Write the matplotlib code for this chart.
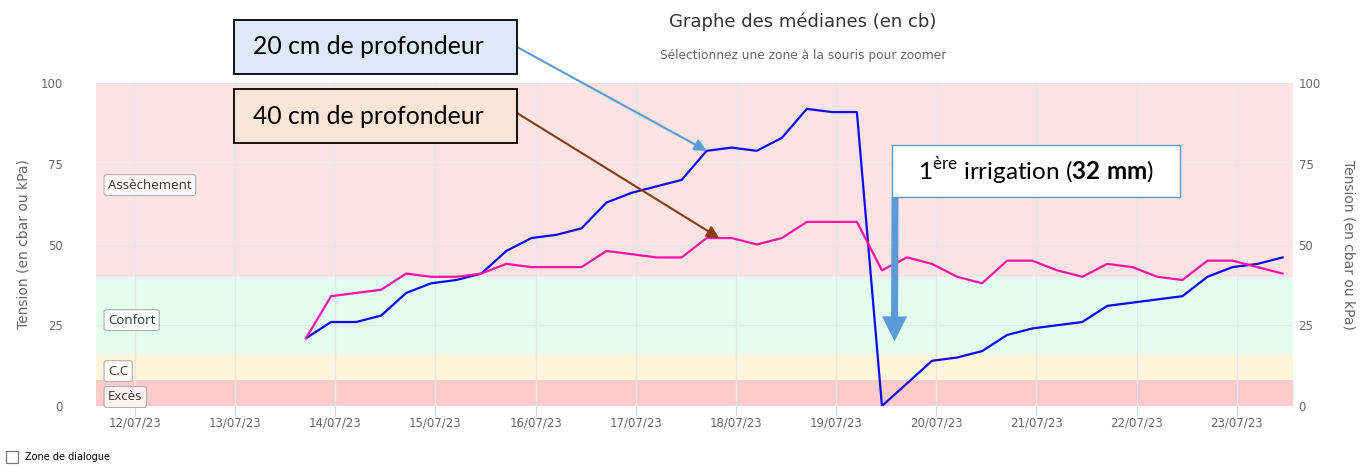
import matplotlib

matplotlib.use("Agg")
import matplotlib.dates as mdates
import matplotlib.pyplot as plt
import pandas as pd
from matplotlib.patches import Rectangle

# medians every 6 h, starting 13/07/23 17:00
start = "2023-07-13 17:00"
tension_20cm = [21, 26, 26, 28, 35, 38, 39, 41, 48, 52, 53, 55, 63, 66, 68, 70,
                79, 80, 79, 83, 92, 91, 91, 0, 7, 14, 15, 17, 22, 24, 25, 26,
                31, 32, 33, 34, 40, 43, 44, 46]
tension_40cm = [21, 34, 35, 36, 41, 40, 40, 41, 44, 43, 43, 43, 48, 47, 46, 46,
                52, 52, 50, 52, 57, 57, 57, 42, 46, 44, 40, 38, 45, 45, 42, 40,
                44, 43, 40, 39, 45, 45, 43, 41]
dates = pd.date_range(start, periods=len(tension_20cm), freq="6h")

# plot bands (from, to, label, colour, label value)
band_names = ["Excès", "C.C", "Confort", "Assèchement"]
band_from = [0, 8, 16, 40]
band_to = [8, 16, 40, 100]
band_colors = ["#ffcaca", "#fdf5dc", "#e3fdf1", "#fee3e5"]
band_label_y = [2.8, 10.8, 26.6, 68.4]

y_ticks = [0, 25, 50, 75, 100]
x_ticks = pd.date_range("2023-07-12", "2023-07-23", freq="D")

W, H = 1365, 467
fig = plt.figure(figsize=(W / 100, H / 100), dpi=100)
ax = fig.add_axes([96 / W, 1 - 406 / H, 1197 / W, 323 / H])

for lo, hi, c in zip(band_from, band_to, band_colors):
    ax.axhspan(lo, hi, color=c, lw=0, zorder=0)

ax.plot(dates, tension_20cm, color="#0a0aff", lw=1.6, zorder=3)
ax.plot(dates, tension_40cm, color="#ff12a4", lw=1.6, zorder=3)

ax.set_xlim(pd.Timestamp("2023-07-11 14:40"), pd.Timestamp("2023-07-23 13:30"))
ax.set_ylim(0, 100)
ax.set_xticks(x_ticks)
ax.xaxis.set_major_formatter(mdates.DateFormatter("%d/%m/%y"))
ax.set_yticks(y_ticks)
ax.grid(True, color="#e6e6e6", lw=1, zorder=1)
ax.set_axisbelow(True)
for s in ax.spines.values():
    s.set_visible(False)
ax.tick_params(axis="x", length=7, color="#ccd6eb", labelcolor="#666666",
               labelsize=8.5, pad=0.5)
ax.tick_params(axis="y", length=0, labelcolor="#666666", labelsize=8.5, pad=24)

ax.set_ylabel("Tension (en cbar ou kPa)", color="#666666", fontsize=10)
ax.yaxis.set_label_coords(-0.055, 0.5)

ax2 = ax.twinx()
ax2.set_ylim(0, 100)
ax2.set_yticks(y_ticks)
for s in ax2.spines.values():
    s.set_visible(False)
ax2.tick_params(axis="y", length=0, labelcolor="#666666", labelsize=8.5, pad=4)
ax2.set_ylabel("Tension (en cbar ou kPa)", color="#666666", fontsize=10,
               rotation=270)
ax2.yaxis.set_label_coords(1.052, 0.5)

for name, yv in zip(band_names, band_label_y):
    ax.text(12 / 1197, yv, name, transform=ax.get_yaxis_transform(),
            family="Open Sans", fontsize=9.5, color="#333333", va="center",
            ha="left", zorder=4,
            bbox=dict(boxstyle="round,pad=0.3,rounding_size=0.2",
                      fc=(1, 1, 1, 0.75), ec="#b0b0b0", lw=0.8))

fig.text(803 / W, 1 - 22 / H, "Graphe des médianes (en cb)", ha="center",
         va="center", fontsize=13, color="#333333")
fig.text(803 / W, 1 - 56 / H, "Sélectionnez une zone à la souris pour zoomer",
         ha="center", va="center", fontsize=8.8, color="#666666")

# dialog checkbox
fig.add_artist(Rectangle((6 / W, 4 / H), 12 / W, 12 / H, transform=fig.transFigure,
                         fc="white", ec="#777777", lw=0.9))
fig.text(25 / W, 10 / H, "Zone de dialogue", fontsize=7, color="black",
         va="center", ha="left")

# callout boxes
plt.rcParams["mathtext.fontset"] = "custom"
plt.rcParams["mathtext.rm"] = "Lato"
plt.rcParams["mathtext.bf"] = "Lato:bold"


def callout(x0, y0, w, h, fc, ec, lw):
    fig.add_artist(Rectangle((x0 / W, 1 - (y0 + h) / H), w / W, h / H,
                             transform=fig.transFigure, fc=fc, ec=ec, lw=lw,
                             zorder=10))


callout(234, 20, 283, 54, "#dde9f6", "black", 1.3)
callout(234, 89, 283, 54, "#fbe5d6", "black", 1.3)
callout(892, 145, 288, 52, "white", "#5b9bd5", 1.0)
fig.text(253 / W, 1 - 47 / H, "20 cm de profondeur", family="Lato", fontsize=17.8,
         va="center", ha="left", zorder=11)
fig.text(253 / W, 1 - 116 / H, "40 cm de profondeur", family="Lato", fontsize=17.8,
         va="center", ha="left", zorder=11)
fig.text(1036 / W, 1 - 171 / H,
         r"1$^{\mathrm{ère}}$ irrigation ($\mathbf{32}$ $\mathbf{mm}$)",
         family="Lato", fontsize=17.5, va="center", ha="center", zorder=11)

ax.annotate("", xy=(dates[16], tension_20cm[16]), xycoords="data",
            xytext=(517, H - 47), textcoords="figure pixels",
            arrowprops=dict(arrowstyle="-|>", color="#5b9bd5", lw=1.5,
                            mutation_scale=18, shrinkA=0, shrinkB=0),
            annotation_clip=False, zorder=12)
ax.annotate("", xy=(dates[16] + pd.Timedelta("3h"), tension_40cm[16]),
            xycoords="data", xytext=(517, H - 113), textcoords="figure pixels",
            arrowprops=dict(arrowstyle="-|>", color="#843c0c", lw=1.5,
                            mutation_scale=18, shrinkA=0, shrinkB=0),
            annotation_clip=False, zorder=12)
ax.annotate("", xy=(dates[23] + pd.Timedelta("3h"), 20), xycoords="data",
            xytext=(895, H - 197), textcoords="figure pixels",
            arrowprops=dict(arrowstyle="simple,head_length=1.0,head_width=1.0,tail_width=0.28",
                            color="#5b9bd5", mutation_scale=18, shrinkA=0,
                            shrinkB=0, lw=0),
            annotation_clip=False, zorder=12)

fig.savefig("out.png", dpi=100)
